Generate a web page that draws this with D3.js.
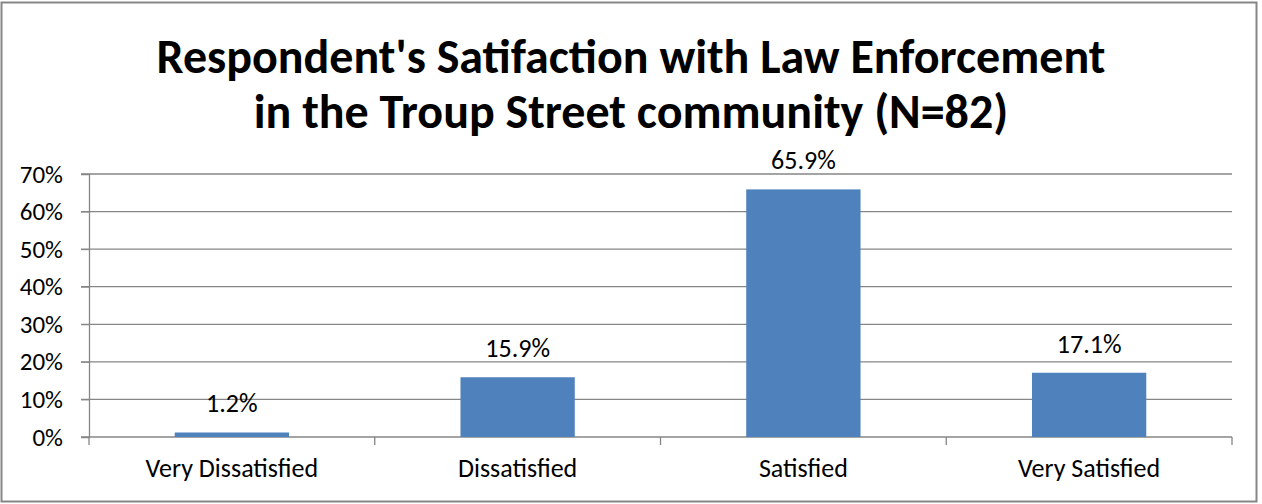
<html lang="en">
<head>
<meta charset="UTF-8">
<title></title>
<style>
	body { margin: 0; background: #fff; }
	text { font-family: Calibri, Carlito, Lato, "Open Sans", sans-serif; fill: #000; }
</style>
</head>
<body>
<svg id="viz"></svg>
<script src="https://cdn.jsdelivr.net/npm/d3@7"></script>
<script>
var categories = ["Very Dissatisfied", "Dissatisfied", "Satisfied", "Very Satisfied"];
var values = [1.2, 15.9, 65.9, 17.1];
var yTicks = [0, 10, 20, 30, 40, 50, 60, 70];
var titleLines = ["Respondent's Satifaction with Law Enforcement", "in the Troup Street community (N=82)"];

var width = 1262, height = 504;
var margin = {left: 89, right: 30, top: 174, bottom: 67};

var svg = d3.select("#viz").attr("width", width).attr("height", height);

// chart border
svg.append("rect")
	.attr("x", 1.5).attr("y", 2.5)
	.attr("width", 1255).attr("height", 499)
	.attr("fill", "#fff")
	.attr("stroke", "#868686")
	.attr("stroke-width", 2);

svg.selectAll(".title")
	.data(titleLines)
	.enter()
	.append("text")
	.attr("class", "title")
	.attr("x", 631)
	.attr("y", function(d, i) { return 73 + i * 55; })
	.attr("text-anchor", "middle")
	.style("font-size", "48px")
	.style("font-weight", "bold")
	.text(function(d) { return d; });

var x = d3.scaleBand()
	.domain(categories)
	.range([margin.left, width - margin.right])
	.paddingInner(0.6)
	.paddingOuter(0.3);

var y = d3.scaleLinear()
	.domain([0, 70])
	.range([height - margin.bottom, margin.top]);

// gridlines
svg.append("g")
	.selectAll("line")
	.data(yTicks)
	.enter()
	.append("line")
	.attr("x1", margin.left - 8)
	.attr("x2", width - margin.right)
	.attr("y1", function(d) { return y(d); })
	.attr("y2", function(d) { return y(d); })
	.attr("stroke", "#868686")
	.attr("stroke-width", 1.3);

var yAxis = svg.append("g")
	.attr("transform", "translate(" + margin.left + ",0)")
	.call(d3.axisLeft(y).tickValues(yTicks).tickSize(8).tickPadding(18)
		.tickFormat(function(d) { return d + "%"; }));
yAxis.select(".domain").attr("stroke", "#868686").attr("stroke-width", 1.3);
yAxis.selectAll(".tick line").attr("stroke", "#868686");
yAxis.selectAll("text").style("font-size", "25px").attr("fill", "#000");

var xAxis = svg.append("g")
	.attr("transform", "translate(0," + y(0) + ")")
	.call(d3.axisBottom(x).tickSize(0).tickPadding(22));
xAxis.select(".domain").remove();
xAxis.selectAll("text").style("font-size", "26px").attr("fill", "#000").attr("dy", "0.71em");

// category separators
var bounds = [margin.left].concat(categories.map(function(c) { return x(c) - x.step() * 0.3 + x.step(); }));
svg.append("g")
	.selectAll("line")
	.data(bounds)
	.enter()
	.append("line")
	.attr("x1", function(d) { return d; })
	.attr("x2", function(d) { return d; })
	.attr("y1", y(0))
	.attr("y2", y(0) + 8)
	.attr("stroke", "#868686")
	.attr("stroke-width", 1.3);

svg.append("g")
	.selectAll("rect")
	.data(values)
	.enter()
	.append("rect")
	.attr("x", function(d, i) { return x(categories[i]); })
	.attr("width", x.bandwidth())
	.attr("y", function(d) { return y(d); })
	.attr("height", function(d) { return y(0) - y(d); })
	.attr("fill", "#4F81BD");

svg.append("g")
	.selectAll("text")
	.data(values)
	.enter()
	.append("text")
	.attr("x", function(d, i) { return x(categories[i]) + x.bandwidth() / 2; })
	.attr("y", function(d) { return y(d) - 20; })
	.attr("text-anchor", "middle")
	.style("font-size", "26px")
	.text(function(d) { return d.toFixed(1) + "%"; });
</script>
</body>
</html>
